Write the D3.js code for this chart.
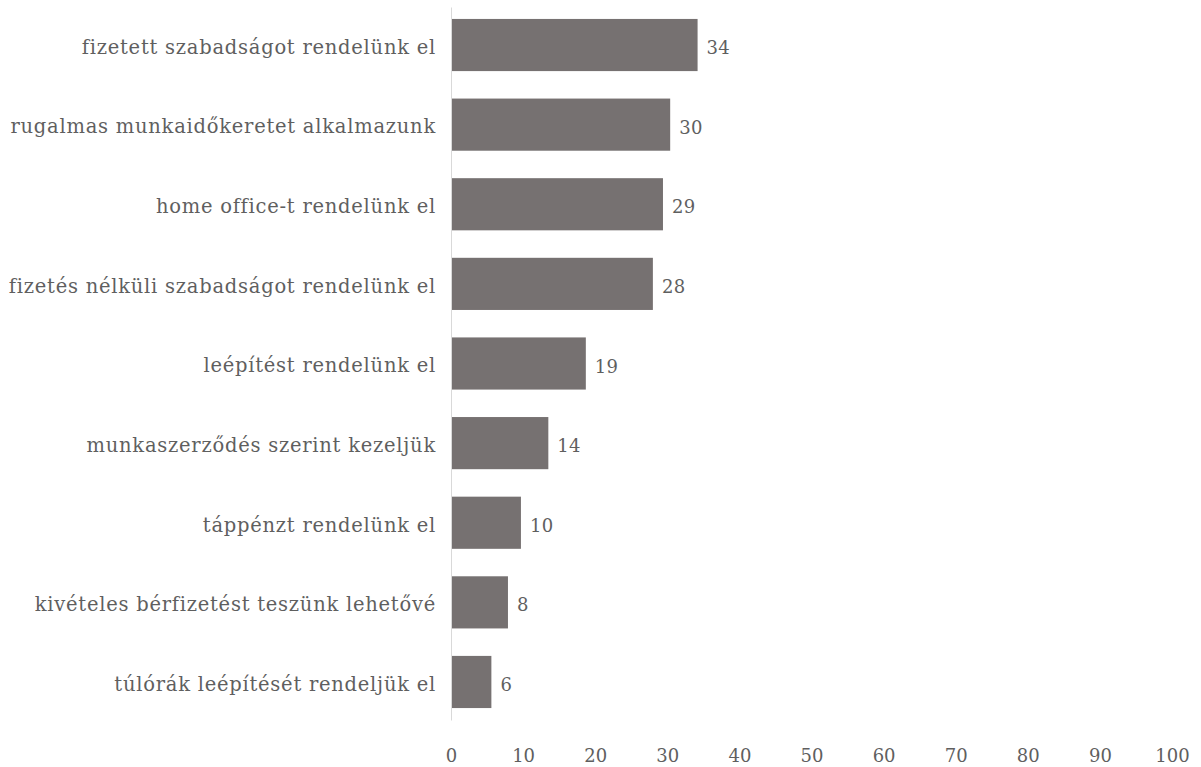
<!DOCTYPE html>
<html>
<head>
<meta charset="utf-8">
<script src="https://cdn.jsdelivr.net/npm/d3@7"></script>
<style>
  body { margin: 0; background: #fff; }
  text { font-family: "DejaVu Serif", serif; fill: #5f5f5f; }
</style>
</head>
<body>
<div id="chart"></div>
<script>
var width = 1201;
var height = 767;

var categories = [
  "fizetett szabadságot rendelünk el",
  "rugalmas munkaidőkeretet alkalmazunk",
  "home office-t rendelünk el",
  "fizetés nélküli szabadságot rendelünk el",
  "leépítést rendelünk el",
  "munkaszerződés szerint kezeljük",
  "táppénzt rendelünk el",
  "kivételes bérfizetést teszünk lehetővé",
  "túlórák leépítését rendeljük el"
];
// percentages (labels are shown rounded)
var values = [34.2, 30.4, 29.4, 28.0, 18.7, 13.5, 9.7, 7.9, 5.6];
var ticks = [0, 10, 20, 30, 40, 50, 60, 70, 80, 90, 100];

var svg = d3.select("#chart")
  .append("svg")
  .attr("width", width)
  .attr("height", height);

var xScale = d3.scaleLinear().domain([0, 100]).range([451, 1172]);
var yScale = d3.scaleBand().domain(categories).range([7, 720])
  .paddingInner(0.345).paddingOuter(0.15);
var fmt = d3.format(".0f");

// bars
svg.selectAll("rect.bar")
  .data(values)
  .enter()
  .append("rect")
  .attr("class", "bar")
  .attr("x", xScale(0))
  .attr("y", function(d, i) { return yScale(categories[i]); })
  .attr("width", function(d) { return xScale(d) - xScale(0); })
  .attr("height", yScale.bandwidth())
  .attr("fill", "#767171");

// value labels
svg.selectAll("text.val")
  .data(values)
  .enter()
  .append("text")
  .attr("class", "val")
  .attr("x", function(d) { return xScale(d) + 9; })
  .attr("y", function(d, i) { return yScale(categories[i]) + yScale.bandwidth() / 2; })
  .attr("dy", "0.5em")
  .style("font-size", "18px")
  .style("letter-spacing", "0.3px")
  .text(function(d) { return fmt(d); });

// vertical axis line + category labels
var yAxis = d3.axisLeft(yScale).tickSize(0).tickPadding(15);
var gy = svg.append("g")
  .attr("transform", "translate(" + xScale(0) + ",0)")
  .call(yAxis);
gy.select(".domain").attr("stroke", "#d9d9d9").attr("stroke-width", 1);
gy.selectAll("text")
  .attr("dy", "0.45em")
  .style("font-size", "19.5px")
  .style("letter-spacing", "0.75px")
  .attr("fill", "#5f5f5f");

// x tick labels, no line
var xAxis = d3.axisBottom(xScale).tickValues(ticks).tickSize(0).tickPadding(0);
var gx = svg.append("g")
  .attr("transform", "translate(0,749)")
  .call(xAxis);
gx.select(".domain").remove();
gx.selectAll("text")
  .style("font-size", "18px")
  .attr("fill", "#5f5f5f");
</script>
</body>
</html>
